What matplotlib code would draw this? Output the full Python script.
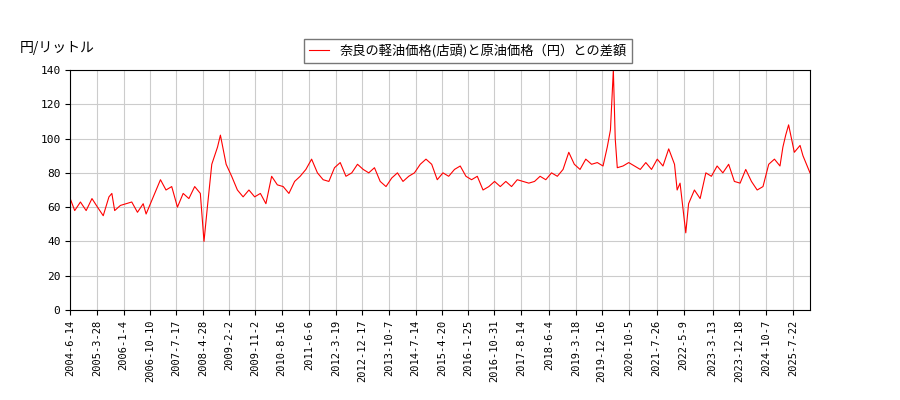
import matplotlib
matplotlib.use('Agg')
import matplotlib.pyplot as plt
import pandas as pd

plt.rcParams['font.family'] = ['Noto Sans CJK JP', 'DejaVu Sans']

# 奈良の軽油価格と原油価格の差額 (円/リットル)、絵から読み取った概算値
dates = ['2004-06-14', '2004-08-01', '2004-10-01', '2004-12-01', '2005-02-01', '2005-04-01',
         '2005-06-01', '2005-08-01', '2005-09-01', '2005-10-01', '2005-12-01', '2006-02-01',
         '2006-04-01', '2006-06-01', '2006-08-01', '2006-09-01', '2006-11-01', '2007-01-01',
         '2007-02-01', '2007-04-01', '2007-06-01', '2007-08-01', '2007-10-01', '2007-12-01',
         '2008-02-01', '2008-04-01', '2008-05-10', '2008-06-15', '2008-08-01', '2008-10-01',
         '2008-11-01', '2009-01-01', '2009-03-01', '2009-05-01', '2009-07-01', '2009-09-01',
         '2009-11-01', '2010-01-01', '2010-03-01', '2010-05-01', '2010-07-01', '2010-09-01',
         '2010-11-01', '2011-01-01', '2011-03-01', '2011-05-01', '2011-07-01', '2011-09-01',
         '2011-11-01', '2012-01-01', '2012-03-01', '2012-05-01', '2012-07-01', '2012-09-01',
         '2012-11-01', '2013-01-01', '2013-03-01', '2013-05-01', '2013-07-01', '2013-09-01',
         '2013-11-01', '2014-01-01', '2014-03-01', '2014-05-01', '2014-07-01', '2014-09-01',
         '2014-11-01', '2015-01-01', '2015-03-01', '2015-05-01', '2015-07-01', '2015-09-01',
         '2015-11-01', '2016-01-01', '2016-03-01', '2016-05-01', '2016-07-01', '2016-09-01',
         '2016-11-01', '2017-01-01', '2017-03-01', '2017-05-01', '2017-07-01', '2017-09-01',
         '2017-11-01', '2018-01-01', '2018-03-01', '2018-05-01', '2018-07-01', '2018-09-01',
         '2018-11-01', '2019-01-01', '2019-03-01', '2019-05-01', '2019-07-01', '2019-09-01',
         '2019-11-01', '2020-01-01', '2020-02-15', '2020-03-20', '2020-04-20', '2020-05-10',
         '2020-06-01', '2020-08-01', '2020-10-01', '2020-12-01', '2021-02-01', '2021-04-01',
         '2021-06-01', '2021-08-01', '2021-10-01', '2021-12-01', '2022-02-01', '2022-03-01',
         '2022-04-01', '2022-05-01', '2022-06-01', '2022-07-01', '2022-09-01', '2022-11-01',
         '2023-01-01', '2023-03-01', '2023-05-01', '2023-07-01', '2023-09-01', '2023-11-01',
         '2024-01-01', '2024-03-01', '2024-05-01', '2024-07-01', '2024-09-01', '2024-11-01',
         '2025-01-01', '2025-03-01', '2025-04-01', '2025-05-01', '2025-06-01', '2025-08-01',
         '2025-10-01', '2025-11-01', '2026-01-15']
values = [65, 58, 63, 58, 65, 60,
          55, 66, 68, 58, 61, 62,
          63, 57, 62, 56, 64, 72,
          76, 70, 72, 60, 68, 65,
          72, 68, 40, 60, 85, 95,
          102, 85, 78, 70, 66, 70,
          66, 68, 62, 78, 73, 72,
          68, 75, 78, 82, 88, 80,
          76, 75, 83, 86, 78, 80,
          85, 82, 80, 83, 75, 72,
          77, 80, 75, 78, 80, 85,
          88, 85, 76, 80, 78, 82,
          84, 78, 76, 78, 70, 72,
          75, 72, 75, 72, 76, 75,
          74, 75, 78, 76, 80, 78,
          82, 92, 85, 82, 88, 85,
          86, 84, 95, 105, 140, 100,
          83, 84, 86, 84, 82, 86,
          82, 88, 84, 94, 85, 70,
          74, 60, 45, 62, 70, 65,
          80, 78, 84, 80, 85, 75,
          74, 82, 75, 70, 72, 85,
          88, 84, 95, 102, 108, 92,
          96, 90, 80]

tick_dates = ['2004-6-14', '2005-3-28', '2006-1-4', '2006-10-10', '2007-7-17', '2008-4-28',
              '2009-2-2', '2009-11-2', '2010-8-16', '2011-6-6', '2012-3-19', '2012-12-17',
              '2013-10-7', '2014-7-14', '2015-4-20', '2016-1-25', '2016-10-31', '2017-8-14',
              '2018-6-4', '2019-3-18', '2019-12-16', '2020-10-5', '2021-7-26', '2022-5-9',
              '2023-3-13', '2023-12-18', '2024-10-7', '2025-7-22']

x = pd.to_datetime(dates)

fig = plt.figure(figsize=(9, 4), dpi=100)
ax = fig.add_axes([0.078, 0.225, 0.822, 0.6])
ax.plot(x, values, color='red', linewidth=0.8, label='奈良の軽油価格(店頭)と原油価格（円）との差額')
ax.set_ylim(0, 140)
ax.set_yticks(range(0, 141, 20))
ax.set_xlim(x[0], x[-1])
ax.set_xticks(pd.to_datetime(tick_dates))
ax.set_xticklabels(tick_dates, rotation=90, fontsize=7.5, family=['DejaVu Sans Mono'])
ax.set_yticklabels([str(v) for v in range(0, 141, 20)], fontsize=8, family=['DejaVu Sans Mono'])
ax.grid(True, color='#cccccc', linewidth=0.8)
fig.text(0.022, 0.87, '円/リットル', fontsize=10)
fig.legend(loc='upper center', bbox_to_anchor=(0.52, 0.92), fontsize=9.5, fancybox=False,
           edgecolor='#555555', handlelength=1.5)
fig.savefig('out.png')
